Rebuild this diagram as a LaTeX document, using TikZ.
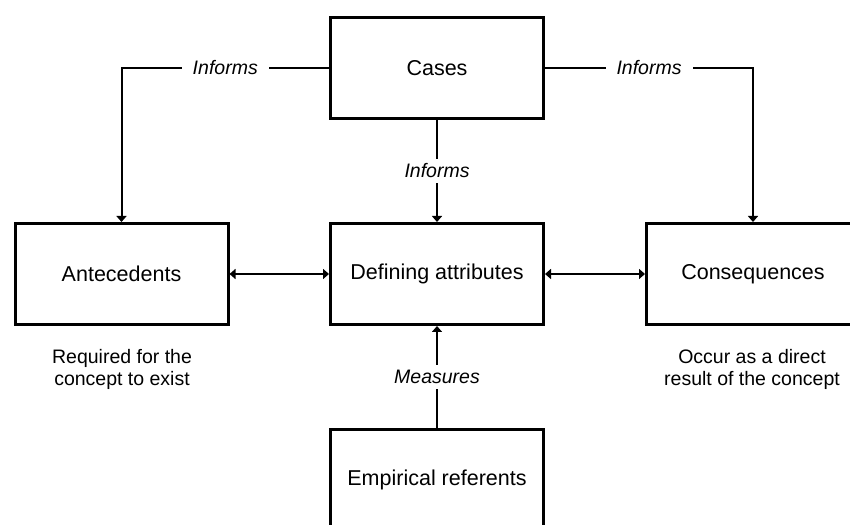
\documentclass[tikz,border=0pt]{standalone}
\usepackage{fontspec}
\setmainfont{Liberation Sans}
\usetikzlibrary{arrows.meta}
\begin{document}
\begin{tikzpicture}[x=1pt, y=1pt,
        box/.style = {draw, line width=3pt, minimum width=213pt, minimum height=101pt, font=\fontsize{21.5}{26}\selectfont},
        link/.style = {line width=2pt},
        tip/.style = {-{Triangle[width=10pt, length=6pt]}},
        dtip/.style = {{Triangle[width=10pt, length=6pt]}-{Triangle[width=10pt, length=6pt]}},
        lbl/.style = {fill=white, inner xsep=11pt, inner ysep=5pt, font=\fontsize{19.5}{22}\itshape},
        note/.style = {align=center, font=\fontsize{19.5}{22}\selectfont}]
            \clip (0,0) rectangle (850,524);
            \node[box] (cases) at (437,456) {Cases};
            \node[box] (ante) at (121.5,250) {Antecedents};
            \node[box] (def) at (437,250) {Defining attributes};
            \node[box] (cons) at (753,250) {Consequences};
            \node[box] (emp) at (437,44) {Empirical referents};
            \node[note] (req) at (122,155) {Required for the\\concept to exist};
            \node[note] (occ) at (752,155) {Occur as a direct\\result of the concept};
            \draw[link, tip] (cases.west) -| node[lbl, pos=0.25] {Informs} (ante.north);
            \draw[link, tip] (cases.east) -| node[lbl, pos=0.25] {Informs} (cons.north);
            \draw[link, tip] (cases) -- node[lbl] {Informs} (def);
            \draw[link, dtip] (ante) -- (def);
            \draw[link, dtip] (def) -- (cons);
            \draw[link, tip] (emp) -- node[lbl] {Measures} (def);
        \end{tikzpicture}
\end{document}
